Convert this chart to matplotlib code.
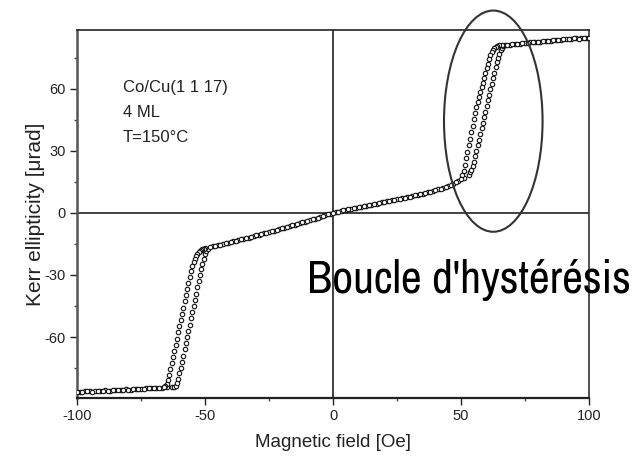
import matplotlib
matplotlib.use("Agg")
import matplotlib.pyplot as plt
import matplotlib.font_manager as fm
from matplotlib.patches import Ellipse

# ---------------- data ----------------
# ascending sweep branch
field_up = [-99, -97, -95, -93, -91, -89, -87, -85, -83, -81, -79, -77, -75, -73, -71, -69, -67, -65, -63,
            -62, -61.5, -61, -60.5, -60, -59.5, -59, -58.5, -58, -57.5, -57, -56.5, -56, -55.5, -55, -54.5,
            -54, -53.5, -53, -52.5, -52, -51.5, -51, -50.5, -50, -49.5, -49,
            -47, -45, -43, -41, -39, -37, -35, -33, -31, -29, -27, -25, -23, -21, -19, -17, -15, -13, -11,
            -9, -7, -5, -3, -1, 1, 3, 5, 7, 9, 11, 13, 15, 17, 19, 21, 23, 25, 27, 29, 31, 33, 35, 37, 39,
            41, 43, 45, 47, 49, 51, 53,
            53.5, 54, 54.5, 55, 55.5, 56, 56.5, 57, 57.5, 58, 58.5, 59, 59.5, 60, 60.5, 61, 61.5, 62, 62.5,
            63, 63.5, 64, 64.5, 65, 65.5, 66, 66.5, 67,
            69, 71, 73, 75, 77, 79, 81, 83, 85, 87, 89, 91, 93, 95, 97, 99]
kerr_up = [-86.4, -86.0, -86.3, -85.9, -86.1, -85.7, -85.9, -85.5, -85.6, -85.2, -85.4, -85.0, -85.1, -84.8,
           -84.9, -84.5, -84.6, -84.3, -84.2,
           -84.0, -83.6, -82.2, -80.2, -77.6, -74.8, -71.9, -69.0, -66.0, -63.0, -60.0, -57.0, -54.0, -51.0,
           -48.0, -45.0, -42.0, -39.0, -36.0, -33.0, -30.0, -27.2, -24.6, -22.2, -20.0, -18.4, -17.2,
           -16.2, -15.6, -15.0, -14.4, -13.8, -13.2, -12.5, -11.9, -11.2, -10.5, -9.9, -9.2, -8.5, -7.8,
           -7.1, -6.4, -5.7, -5.0, -4.2, -3.5, -2.7, -1.9, -1.1, -0.4, 0.3, 0.9, 1.5, 2.0, 2.5, 3.0, 3.5,
           4.0, 4.5, 5.1, 5.6, 6.1, 6.6, 7.1, 7.7, 8.2, 8.8, 9.4, 10.0, 10.7, 11.4, 12.2, 13.1, 14.2, 15.4,
           16.8, 18.6,
           19.6, 20.8, 22.6, 24.8, 27.4, 30.1, 32.8, 35.5, 38.2, 40.9, 43.6, 46.3, 49.0, 51.7, 54.4, 57.1,
           59.8, 62.5, 65.2, 67.9, 70.5, 72.9, 75.1, 77.0, 78.6, 79.8, 80.6, 81.0,
           81.4, 81.7, 81.9, 82.3, 82.5, 82.8, 82.9, 83.3, 83.4, 83.7, 83.8, 84.1, 84.2, 84.5, 84.4, 84.8]

# descending sweep branch
field_down = [100, 98, 96, 94, 92, 90, 88, 86, 84, 82, 80, 78, 76, 74, 72, 70, 68, 66,
              65, 64, 63.5, 63, 62.5, 62, 61.5, 61, 60.5, 60, 59.5, 59, 58.5, 58, 57.5, 57, 56.5, 56,
              55.5, 55, 54.5, 54, 53.5, 53, 52.5, 52, 51.5, 51, 50.5, 50,
              48, 46, 44, 42, 40, 38, 36, 34, 32, 30, 28, 26, 24, 22, 20, 18, 16, 14, 12, 10, 8, 6, 4, 2,
              0, -2, -4, -6, -8, -10, -12, -14, -16, -18, -20, -22, -24, -26, -28, -30, -32, -34, -36,
              -38, -40, -42, -44, -46, -48, -50,
              -50.5, -51, -51.5, -52, -52.5, -53, -53.5, -54, -54.5, -55, -55.5, -56, -56.5, -57, -57.5,
              -58, -58.5, -59, -59.5, -60, -60.5, -61, -61.5, -62, -62.5, -63, -63.5, -64, -64.5, -65,
              -65.5, -66,
              -68, -70, -72, -74, -76, -78, -80, -82, -84, -86, -88, -90, -92, -94, -96, -98, -100]
kerr_down = [84.6, 84.7, 84.3, 84.4, 84.0, 84.0, 83.6, 83.6, 83.2, 83.1, 82.8, 82.6, 82.3, 82.1, 81.8, 81.5,
             81.3, 81.0,
             81.0, 80.8, 80.5, 79.9, 79.0, 77.8, 76.2, 74.3, 72.2, 70.0, 67.7, 65.4, 63.1, 60.8, 58.4, 56.0,
             53.6, 51.1, 48.4, 45.3, 42.2, 39.1, 36.0, 32.8, 29.6, 26.4, 23.3, 20.5, 18.6, 16.6,
             14.8, 13.6, 12.6, 11.8, 11.0, 10.3, 9.7, 9.1, 8.5, 7.9, 7.4, 6.8, 6.3, 5.8, 5.3, 4.8, 4.2,
             3.7, 3.2, 2.7, 2.2, 1.7, 1.2, 0.6,
             0.0, -0.7, -1.5, -2.3, -3.1, -3.9, -4.6, -5.3, -6.0, -6.8, -7.5, -8.2, -8.9, -9.5, -10.2,
             -10.9, -11.5, -12.2, -12.8, -13.5, -14.1, -14.7, -15.3, -15.9, -16.4, -17.0,
             -17.3, -17.6, -18.0, -18.5, -19.1, -19.9, -20.9, -22.2, -23.8, -25.8, -28.2, -30.9, -33.8,
             -36.8, -39.8, -42.8, -45.8, -48.8, -51.8, -54.8, -57.8, -60.8, -63.8, -66.8, -69.8, -72.8,
             -75.7, -78.4, -80.8, -82.6, -83.7, -84.3,
             -84.6, -84.8, -84.8, -85.1, -85.2, -85.2, -85.5, -85.5, -85.8, -85.8, -86.0, -86.1, -86.2,
             -86.4, -86.3, -86.6, -86.6]

x_ticks = [-100, -50, 0, 50, 100]
y_ticks = [-60, -30, 0, 30, 60]
sample_lines = ["Co/Cu(1 1 17)", "4 ML", "T=150\u00b0C"]
annotation = "Boucle d'hyst\u00e9r\u00e9sis"

# ---------------- figure ----------------
plt.rcParams['font.family'] = ['Liberation Sans', 'DejaVu Sans']
plt.rcParams['axes.unicode_minus'] = False
fig = plt.figure(figsize=(6.35, 4.65), dpi=100)
ax = fig.add_axes([0.1213, 0.1441, 0.8063, 0.7914])

ax.axhline(0, color='#333333', lw=1.3, zorder=1)
ax.axvline(0, color='#333333', lw=1.3, zorder=1)

mk = dict(linestyle='none', marker='o', markersize=3.2, markerfacecolor='white',
          markeredgecolor='#111111', markeredgewidth=0.8, zorder=3)
ax.plot(field_up, kerr_up, **mk)
ax.plot(field_down, kerr_down, **mk)

ax.set_xlim(-100, 100)
ax.set_ylim(-89.5, 88.5)
ax.set_xticks(x_ticks)
ax.set_yticks(y_ticks)
ax.set_xticks([-75, -25, 25, 75], minor=True)
ax.set_yticks([-75, -45, -15, 15, 45, 75], minor=True)
ax.tick_params(which='major', direction='out', length=5, width=1.0, labelsize=10.5,
               colors='#222222', pad=3)
ax.tick_params(which='minor', direction='out', length=2.5, width=1.0, colors='#444444')

for side, lw, col in [('left', 1.8, '#555555'), ('bottom', 1.6, '#222222'),
                      ('top', 1.2, '#222222'), ('right', 1.2, '#333333')]:
    ax.spines[side].set_linewidth(lw)
    ax.spines[side].set_color(col)

ax.set_xlabel("Magnetic field [Oe]", fontsize=13.5, color='#222222', labelpad=8)
ax.set_ylabel("Kerr ellipticity [\u03bcrad]", fontsize=15, color='#222222', labelpad=0)

ell = Ellipse((62.6, 44.4), 38.5, 107, fill=False, edgecolor='#333333', lw=1.5,
              clip_on=False, zorder=4)
ax.add_patch(ell)

for i, line in enumerate(sample_lines):
    fig.text(123 / 635, 1 - (92 + 25 * i) / 465, line, ha='left', va='baseline',
             fontsize=12, color='#222222')

# pick a narrow (preferred) or condensed sans face if one is installed, else Liberation Sans
narrow_prop = None
for key in ('Narrow', 'Condensed'):
    for f in fm.fontManager.ttflist:
        n = f.name + ' ' + f.fname
        if (key in n and 'Mono' not in n and 'Serif' not in n and f.style == 'normal'
                and f.weight in (400, 'normal', 'regular')):
            narrow_prop = fm.FontProperties(fname=f.fname)
            break
    if narrow_prop is not None:
        break
if narrow_prop is None:
    narrow_prop = fm.FontProperties(family='Liberation Sans')

big = fig.text(307 / 635, 1 - 293 / 465, annotation, ha='left', va='baseline',
               fontproperties=narrow_prop, fontsize=36, color='black', zorder=10)
renderer = fig.canvas.get_renderer()
w = big.get_window_extent(renderer).width
target_w = 324.0
if w > target_w:
    big.set_fontsize(36 * target_w / w)

fig.savefig("out.png", dpi=100, facecolor='white')
